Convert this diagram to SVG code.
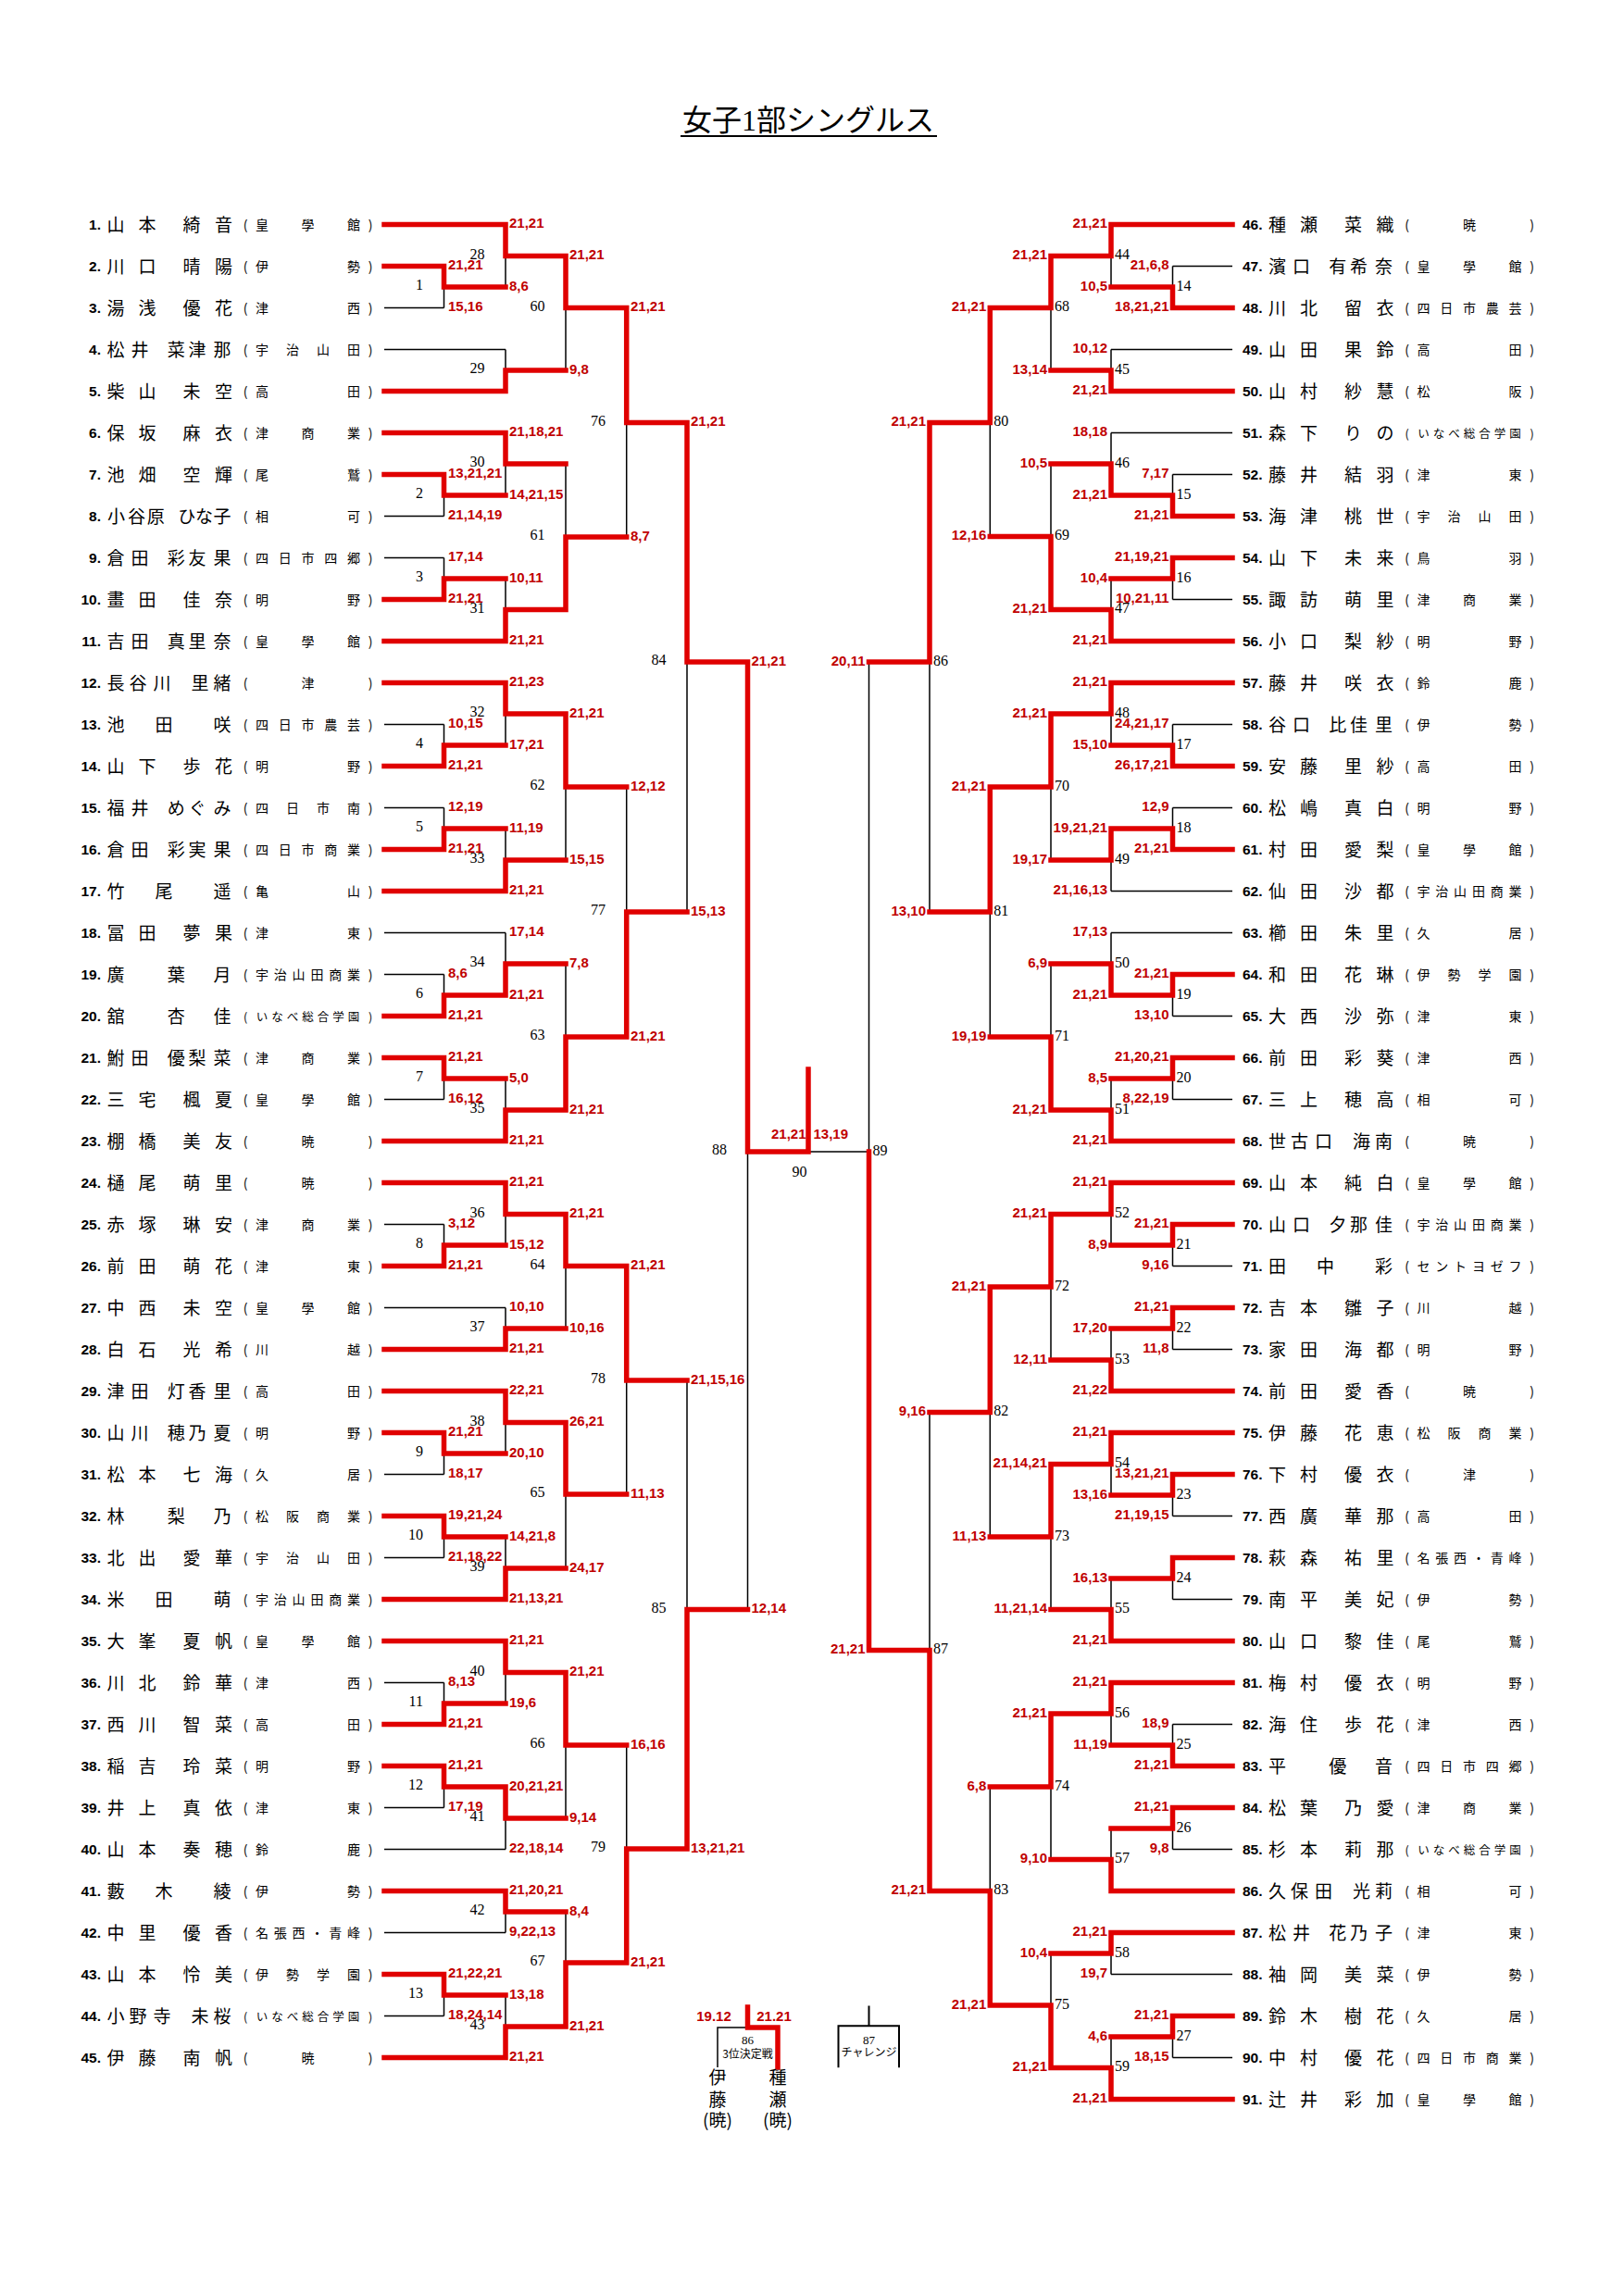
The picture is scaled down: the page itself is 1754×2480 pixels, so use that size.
<svg xmlns="http://www.w3.org/2000/svg" width="1754" height="2480" viewBox="0 0 1754 2480">
<style>
.r{stroke:#e00000;stroke-width:5.5;fill:none;stroke-linecap:square;stroke-linejoin:miter}
.k{stroke:#000;stroke-width:1.5;fill:none}
.kb{stroke:#000;stroke-width:2;fill:none}
.s{font-family:"Liberation Sans",Arial,sans-serif;font-weight:bold;font-size:15px;fill:#c00000}
.se{text-anchor:end}
.m{font-family:"Liberation Serif","Times New Roman",serif;font-size:16px;fill:#000}
.n{font-family:"Liberation Sans",Arial,sans-serif;font-weight:bold;font-size:15.5px;text-anchor:end;fill:#000}
.nm{font-family:"Noto Sans CJK JP",sans-serif;font-size:19px;text-anchor:middle;fill:#000}
.sc{font-family:"Noto Sans CJK JP",sans-serif;font-size:14px;text-anchor:middle;fill:#000}
.sc7{font-size:12.5px}
.t{font-family:"Liberation Serif","Noto Sans CJK JP",serif;font-size:32px;text-anchor:middle}
.sm{font-family:"Liberation Serif","Noto Sans CJK JP",serif;font-size:13px;text-anchor:middle}
.lg{font-family:"Noto Sans CJK JP",sans-serif;font-size:12px;text-anchor:middle}
.vn{font-family:"Noto Sans CJK JP",sans-serif;font-size:19px;text-anchor:middle}
</style>
<rect width="1754" height="2480" fill="#fff"/>
<g id="title">
<text class="t" x="873" y="141">女子1部シングルス</text>
<line x1="735" y1="147" x2="1012" y2="147" stroke="#000" stroke-width="2"/>
</g>

<g id="connectors">
<path class="k" d="M415 332.5H479.5M415 377.5H546M415 557.5H479.5M415 602.5H479.5M415 782.5H479.5M415 872.5H479.5M415 1007.5H546M415 1052.5H479.5M415 1187.5H479.5M415 1322.5H479.5M415 1412.5H546M415 1592.5H479.5M415 1682.5H479.5M415 1817.5H479.5M415 1952.5H479.5M415 1997.5H546M415 2087.5H546M415 2177.5H479.5
M479.5 310V332.5M479.5 535V557.5M479.5 602.5V625M479.5 782.5V805M479.5 872.5V895M479.5 1052.5V1075M479.5 1165V1187.5M479.5 1322.5V1345M479.5 1570V1592.5M479.5 1660V1682.5M479.5 1817.5V1840M479.5 1930V1952.5M479.5 2155V2177.5
M546 276.5V310M546 377.5V400M546 501V535M546 625V658.5M546 771V805M546 895V929M546 1007.5V1041M546 1165V1199M546 1311.5V1345M546 1412.5V1435M546 1536.5V1570M546 1660V1694M546 1806.5V1840M546 1964V1997.5M546 2065V2087.5M546 2155V2189
M611 332.5V400M611 501V580M611 850V929M611 1041V1120M611 1367.5V1435M611 1614V1694M611 1885V1964M611 2065V2120
M676.7 456.5V580M676.7 850V985M676.7 1491V1614M676.7 1885V1997
M742 715V985M742 1491V1738.5
M807.5 1244V1738.5
M873 1244H938.5"/>
<path class="k" d="M1331 287.5H1266.5M1331 377.5H1200M1331 467.5H1200M1331 512.5H1266.5M1331 647.5H1266.5M1331 782.5H1266.5M1331 872.5H1266.5M1331 962.5H1200M1331 1007.5H1200M1331 1097.5H1266.5M1331 1187.5H1266.5M1331 1367.5H1266.5M1331 1457.5H1266.5M1331 1637.5H1266.5M1331 1727.5H1266.5M1331 1862.5H1266.5M1331 1997.5H1266.5M1331 2132.5H1200M1331 2222.5H1266.5
M1266.5 287.5V310M1266.5 512.5V535M1266.5 625V647.5M1266.5 782.5V805M1266.5 872.5V895M1266.5 1075V1097.5M1266.5 1165V1187.5M1266.5 1345V1367.5M1266.5 1435V1457.5M1266.5 1615V1637.5M1266.5 1705V1727.5M1266.5 1862.5V1885M1266.5 1975V1997.5M1266.5 2200V2222.5
M1200 276.5V310M1200 377.5V400M1200 467.5V501M1200 625V658.5M1200 771V805M1200 929V962.5M1200 1007.5V1041M1200 1165V1199M1200 1311.5V1345M1200 1435V1469M1200 1581.5V1615M1200 1705V1738.5M1200 1851V1885M1200 1975V2008.5M1200 2110V2132.5M1200 2200V2233.5
M1135 332.5V400M1135 501V579.5M1135 850V929M1135 1041V1120M1135 1390V1469M1135 1660V1738.5M1135 1930V2008.5M1135 2110V2166
M1069.3 456.5V579.5M1069.3 985V1120M1069.3 1525.5V1660M1069.3 1930V2042.5
M1004 715V985M1004 1525.5V1782.5
M938.5 715V1244"/>
<path class="r" d="M415 242.5H546M415 287.5H479.5M415 422.5H546M415 467.5H546M415 512.5H479.5M415 647.5H479.5M415 692.5H546M415 737.5H546M415 827.5H479.5M415 917.5H479.5M415 962.5H546M415 1097.5H479.5M415 1142.5H479.5M415 1232.5H546M415 1277.5H546M415 1367.5H479.5M415 1457.5H546M415 1502.5H546M415 1547.5H479.5M415 1637.5H479.5M415 1727.5H546M415 1772.5H546M415 1862.5H479.5M415 1907.5H479.5M415 2042.5H546M415 2132.5H479.5M415 2222.5H546
M479.5 287.5V310H546M479.5 512.5V535H546M479.5 647.5V625H546M479.5 827.5V805H546M479.5 917.5V895H546M479.5 1097.5V1075H546M479.5 1142.5V1165H546M479.5 1367.5V1345H546M479.5 1547.5V1570H546M479.5 1637.5V1660H546M479.5 1862.5V1840H546M479.5 1907.5V1930H546M479.5 2132.5V2155H546
M546 242.5V276.5H611M546 422.5V400H611M546 467.5V501H611M546 692.5V658.5H611M546 737.5V771H611M546 962.5V929H611M546 1075V1041H611M546 1232.5V1199H611M546 1277.5V1311.5H611M546 1457.5V1435H611M546 1502.5V1536.5H611M546 1727.5V1694H611M546 1772.5V1806.5H611M546 1930V1964H611M546 2042.5V2065H611M546 2222.5V2189H611
M611 276.5V332.5H676.7M611 658.5V580H676.7M611 771V850H676.7M611 1199V1120H676.7M611 1311.5V1367.5H676.7M611 1536.5V1614H676.7M611 1806.5V1885H676.7M611 2189V2120H676.7
M676.7 332.5V456.5H742M676.7 1120V985H742M676.7 1367.5V1491H742M676.7 2120V1997H742
M742 456.5V715H807.5M742 1997V1738.5H807.5
M807.5 715V1244H873V1155"/>
<path class="r" d="M1331 242.5H1200M1331 332.5H1266.5M1331 422.5H1200M1331 557.5H1266.5M1331 602.5H1266.5M1331 692.5H1200M1331 737.5H1200M1331 827.5H1266.5M1331 917.5H1266.5M1331 1052.5H1266.5M1331 1142.5H1266.5M1331 1232.5H1200M1331 1277.5H1200M1331 1322.5H1266.5M1331 1412.5H1266.5M1331 1502.5H1200M1331 1547.5H1200M1331 1592.5H1266.5M1331 1682.5H1266.5M1331 1772.5H1200M1331 1817.5H1200M1331 1907.5H1266.5M1331 1952.5H1266.5M1331 2042.5H1200M1331 2087.5H1200M1331 2177.5H1266.5M1331 2267.5H1200
M1266.5 332.5V310H1200M1266.5 557.5V535H1200M1266.5 602.5V625H1200M1266.5 827.5V805H1200M1266.5 917.5V895H1200M1266.5 1052.5V1075H1200M1266.5 1142.5V1165H1200M1266.5 1322.5V1345H1200M1266.5 1412.5V1435H1200M1266.5 1592.5V1615H1200M1266.5 1682.5V1705H1200M1266.5 1907.5V1885H1200M1266.5 1952.5V1975H1200M1266.5 2177.5V2200H1200
M1200 242.5V276.5H1135M1200 422.5V400H1135M1200 535V501H1135M1200 692.5V658.5H1135M1200 737.5V771H1135M1200 895V929H1135M1200 1075V1041H1135M1200 1232.5V1199H1135M1200 1277.5V1311.5H1135M1200 1502.5V1469H1135M1200 1547.5V1581.5H1135M1200 1772.5V1738.5H1135M1200 1817.5V1851H1135M1200 2042.5V2008.5H1135M1200 2087.5V2110H1135M1200 2267.5V2233.5H1135
M1135 276.5V332.5H1069.3M1135 658.5V579.5H1069.3M1135 771V850H1069.3M1135 1199V1120H1069.3M1135 1311.5V1390H1069.3M1135 1581.5V1660H1069.3M1135 1851V1930H1069.3M1135 2233.5V2166H1069.3
M1069.3 332.5V456.5H1004M1069.3 850V985H1004M1069.3 1390V1525.5H1004M1069.3 2166V2042.5H1004
M1004 456.5V715H938.5M1004 2042.5V1782.5H938.5
M938.5 1782.5V1244"/>
</g>

<g id="scores-left" class="s">
<text x="484" y="291">21,21</text><text x="484" y="336">15,16</text><text x="484" y="516">13,21,21</text><text x="484" y="561">21,14,19</text><text x="484" y="606">17,14</text><text x="484" y="651">21,21</text><text x="484" y="786">10,15</text><text x="484" y="831">21,21</text><text x="484" y="876">12,19</text><text x="484" y="921">21,21</text><text x="484" y="1056">8,6</text><text x="484" y="1101">21,21</text><text x="484" y="1146">21,21</text><text x="484" y="1191">16,12</text><text x="484" y="1326">3,12</text><text x="484" y="1371">21,21</text><text x="484" y="1551">21,21</text><text x="484" y="1596">18,17</text><text x="484" y="1641">19,21,24</text><text x="484" y="1686">21,18,22</text><text x="484" y="1821">8,13</text><text x="484" y="1866">21,21</text><text x="484" y="1911">21,21</text><text x="484" y="1956">17,19</text><text x="484" y="2136">21,22,21</text><text x="484" y="2181">18,24,14</text>
<text x="550" y="246">21,21</text><text x="550" y="313.5">8,6</text><text x="550" y="471">21,18,21</text><text x="550" y="538.5">14,21,15</text><text x="550" y="628.5">10,11</text><text x="550" y="696">21,21</text><text x="550" y="741">21,23</text><text x="550" y="808.5">17,21</text><text x="550" y="898.5">11,19</text><text x="550" y="966">21,21</text><text x="550" y="1011">17,14</text><text x="550" y="1078.5">21,21</text><text x="550" y="1168.5">5,0</text><text x="550" y="1236">21,21</text><text x="550" y="1281">21,21</text><text x="550" y="1348.5">15,12</text><text x="550" y="1416">10,10</text><text x="550" y="1461">21,21</text><text x="550" y="1506">22,21</text><text x="550" y="1573.5">20,10</text><text x="550" y="1663.5">14,21,8</text><text x="550" y="1731">21,13,21</text><text x="550" y="1776">21,21</text><text x="550" y="1843.5">19,6</text><text x="550" y="1933.5">20,21,21</text><text x="550" y="2001">22,18,14</text><text x="550" y="2046">21,20,21</text><text x="550" y="2091">9,22,13</text><text x="550" y="2158.5">13,18</text><text x="550" y="2226">21,21</text>
<text x="615" y="280">21,21</text><text x="615" y="403.5">9,8</text><text x="615" y="774.5">21,21</text><text x="615" y="932.5">15,15</text><text x="615" y="1044.5">7,8</text><text x="615" y="1202.5">21,21</text><text x="615" y="1315">21,21</text><text x="615" y="1438.5">10,16</text><text x="615" y="1540">26,21</text><text x="615" y="1697.5">24,17</text><text x="615" y="1810">21,21</text><text x="615" y="1967.5">9,14</text><text x="615" y="2068.5">8,4</text><text x="615" y="2192.5">21,21</text>
<text x="681" y="336">21,21</text><text x="681" y="583.5">8,7</text><text x="681" y="853.5">12,12</text><text x="681" y="1123.5">21,21</text><text x="681" y="1371">21,21</text><text x="681" y="1617.5">11,13</text><text x="681" y="1888.5">16,16</text><text x="681" y="2123.5">21,21</text>
<text x="746" y="460">21,21</text><text x="746" y="988.5">15,13</text><text x="746" y="1494.5">21,15,16</text><text x="746" y="2000.5">13,21,21</text>
<text x="811.5" y="718.5">21,21</text><text x="811.5" y="1742">12,14</text>
<text x="870.5" y="1230" class="se">21,21</text><text x="878.5" y="1230">13,19</text>
</g>

<g id="scores-right" class="s se">
<text x="1262.5" y="291">21,6,8</text><text x="1262.5" y="336">18,21,21</text><text x="1262.5" y="516">7,17</text><text x="1262.5" y="561">21,21</text><text x="1262.5" y="606">21,19,21</text><text x="1262.5" y="651">10,21,11</text><text x="1262.5" y="786">24,21,17</text><text x="1262.5" y="831">26,17,21</text><text x="1262.5" y="876">12,9</text><text x="1262.5" y="921">21,21</text><text x="1262.5" y="1056">21,21</text><text x="1262.5" y="1101">13,10</text><text x="1262.5" y="1146">21,20,21</text><text x="1262.5" y="1191">8,22,19</text><text x="1262.5" y="1326">21,21</text><text x="1262.5" y="1371">9,16</text><text x="1262.5" y="1416">21,21</text><text x="1262.5" y="1461">11,8</text><text x="1262.5" y="1596">13,21,21</text><text x="1262.5" y="1641">21,19,15</text><text x="1262.5" y="1866">18,9</text><text x="1262.5" y="1911">21,21</text><text x="1262.5" y="1956">21,21</text><text x="1262.5" y="2001">9,8</text><text x="1262.5" y="2181">21,21</text><text x="1262.5" y="2226">18,15</text>
<text x="1196" y="246">21,21</text><text x="1196" y="313.5">10,5</text><text x="1196" y="381">10,12</text><text x="1196" y="426">21,21</text><text x="1196" y="471">18,18</text><text x="1196" y="538.5">21,21</text><text x="1196" y="628.5">10,4</text><text x="1196" y="696">21,21</text><text x="1196" y="741">21,21</text><text x="1196" y="808.5">15,10</text><text x="1196" y="898.5">19,21,21</text><text x="1196" y="966">21,16,13</text><text x="1196" y="1011">17,13</text><text x="1196" y="1078.5">21,21</text><text x="1196" y="1168.5">8,5</text><text x="1196" y="1236">21,21</text><text x="1196" y="1281">21,21</text><text x="1196" y="1348.5">8,9</text><text x="1196" y="1438.5">17,20</text><text x="1196" y="1506">21,22</text><text x="1196" y="1551">21,21</text><text x="1196" y="1618.5">13,16</text><text x="1196" y="1708.5">16,13</text><text x="1196" y="1776">21,21</text><text x="1196" y="1821">21,21</text><text x="1196" y="1888.5">11,19</text><text x="1196" y="2091">21,21</text><text x="1196" y="2136">19,7</text><text x="1196" y="2203.5">4,6</text><text x="1196" y="2271">21,21</text>
<text x="1131" y="280">21,21</text><text x="1131" y="403.5">13,14</text><text x="1131" y="504.5">10,5</text><text x="1131" y="662">21,21</text><text x="1131" y="774.5">21,21</text><text x="1131" y="932.5">19,17</text><text x="1131" y="1044.5">6,9</text><text x="1131" y="1202.5">21,21</text><text x="1131" y="1315">21,21</text><text x="1131" y="1472.5">12,11</text><text x="1131" y="1585">21,14,21</text><text x="1131" y="1742">11,21,14</text><text x="1131" y="1854.5">21,21</text><text x="1131" y="2012">9,10</text><text x="1131" y="2113.5">10,4</text><text x="1131" y="2237">21,21</text>
<text x="1065.3" y="336">21,21</text><text x="1065.3" y="583">12,16</text><text x="1065.3" y="853.5">21,21</text><text x="1065.3" y="1123.5">19,19</text><text x="1065.3" y="1393.5">21,21</text><text x="1065.3" y="1663.5">11,13</text><text x="1065.3" y="1933.5">6,8</text><text x="1065.3" y="2169.5">21,21</text>
<text x="1000" y="460">21,21</text><text x="1000" y="988.5">13,10</text><text x="1000" y="1529">9,16</text><text x="1000" y="2046">21,21</text>
<text x="934.5" y="718.5">20,11</text><text x="934.5" y="1786">21,21</text>
</g>

<g id="match-numbers-left" class="m" text-anchor="end">
<text x="457" y="313">1</text><text x="457" y="538">2</text><text x="457" y="628">3</text><text x="457" y="808">4</text><text x="457" y="898">5</text><text x="457" y="1078">6</text><text x="457" y="1168">7</text><text x="457" y="1348">8</text><text x="457" y="1573">9</text><text x="457" y="1663">10</text><text x="457" y="1843">11</text><text x="457" y="1933">12</text><text x="457" y="2158">13</text>
<text x="523.5" y="279.5">28</text><text x="523.5" y="403">29</text><text x="523.5" y="504">30</text><text x="523.5" y="661.5">31</text><text x="523.5" y="774">32</text><text x="523.5" y="932">33</text><text x="523.5" y="1044">34</text><text x="523.5" y="1202">35</text><text x="523.5" y="1314.5">36</text><text x="523.5" y="1438">37</text><text x="523.5" y="1539.5">38</text><text x="523.5" y="1697">39</text><text x="523.5" y="1809.5">40</text><text x="523.5" y="1967">41</text><text x="523.5" y="2068">42</text><text x="523.5" y="2192">43</text>
<text x="588.5" y="335.5">60</text><text x="588.5" y="583">61</text><text x="588.5" y="853">62</text><text x="588.5" y="1123">63</text><text x="588.5" y="1370.5">64</text><text x="588.5" y="1617">65</text><text x="588.5" y="1888">66</text><text x="588.5" y="2123">67</text>
<text x="654" y="459.5">76</text><text x="654" y="988">77</text><text x="654" y="1494">78</text><text x="654" y="2000">79</text>
<text x="719.5" y="718">84</text><text x="719.5" y="1741.5">85</text>
<text x="785" y="1247">88</text>
<text x="871.5" y="1271">90</text>
</g>

<g id="match-numbers-right" class="m">
<text x="1270.5" y="313.5">14</text><text x="1270.5" y="538.5">15</text><text x="1270.5" y="628.5">16</text><text x="1270.5" y="808.5">17</text><text x="1270.5" y="898.5">18</text><text x="1270.5" y="1078.5">19</text><text x="1270.5" y="1168.5">20</text><text x="1270.5" y="1348.5">21</text><text x="1270.5" y="1438.5">22</text><text x="1270.5" y="1618.5">23</text><text x="1270.5" y="1708.5">24</text><text x="1270.5" y="1888.5">25</text><text x="1270.5" y="1978.5">26</text><text x="1270.5" y="2203.5">27</text>
<text x="1204" y="280">44</text><text x="1204" y="403.5">45</text><text x="1204" y="504.5">46</text><text x="1204" y="662">47</text><text x="1204" y="774.5">48</text><text x="1204" y="932.5">49</text><text x="1204" y="1044.5">50</text><text x="1204" y="1202.5">51</text><text x="1204" y="1315">52</text><text x="1204" y="1472.5">53</text><text x="1204" y="1585">54</text><text x="1204" y="1742">55</text><text x="1204" y="1854.5">56</text><text x="1204" y="2012">57</text><text x="1204" y="2113.5">58</text><text x="1204" y="2237">59</text>
<text x="1139" y="336">68</text><text x="1139" y="583">69</text><text x="1139" y="853.5">70</text><text x="1139" y="1123.5">71</text><text x="1139" y="1393.5">72</text><text x="1139" y="1663.5">73</text><text x="1139" y="1933.5">74</text><text x="1139" y="2169.5">75</text>
<text x="1073.3" y="460">80</text><text x="1073.3" y="988.5">81</text><text x="1073.3" y="1529">82</text><text x="1073.3" y="2046">83</text>
<text x="1008" y="718.5">86</text><text x="1008" y="1786">87</text>
<text x="942.5" y="1247.5">89</text>
</g>

<g id="players-left">
<g id="p1" transform="translate(0 242.5)"><text class="n" x="109" y="5.5">1.</text><text class="nm" x="125 159 207 241.5" y="7">山本綺音</text><text class="sc" x="265 283 332.5 382 400" y="5">(皇學館)</text></g>
<g id="p2" transform="translate(0 287.5)"><text class="n" x="109" y="5.5">2.</text><text class="nm" x="125 159 207 241.5" y="7">川口晴陽</text><text class="sc" x="265 283 382 400" y="5">(伊勢)</text></g>
<g id="p3" transform="translate(0 332.5)"><text class="n" x="109" y="5.5">3.</text><text class="nm" x="125 159 207 241.5" y="7">湯浅優花</text><text class="sc" x="265 283 382 400" y="5">(津西)</text></g>
<g id="p4" transform="translate(0 377.5)"><text class="n" x="109" y="5.5">4.</text><text class="nm" x="125 151 190.3 213 240" y="7">松井菜津那</text><text class="sc" x="265 283 316 349 382 400" y="5">(宇治山田)</text></g>
<g id="p5" transform="translate(0 422.5)"><text class="n" x="109" y="5.5">5.</text><text class="nm" x="125 159 207 241.5" y="7">柴山未空</text><text class="sc" x="265 283 382 400" y="5">(高田)</text></g>
<g id="p6" transform="translate(0 467.5)"><text class="n" x="109" y="5.5">6.</text><text class="nm" x="125 159 207 241.5" y="7">保坂麻衣</text><text class="sc" x="265 283 332.5 382 400" y="5">(津商業)</text></g>
<g id="p7" transform="translate(0 512.5)"><text class="n" x="109" y="5.5">7.</text><text class="nm" x="125 159 207 241.5" y="7">池畑空輝</text><text class="sc" x="265 283 382 400" y="5">(尾鷲)</text></g>
<g id="p8" transform="translate(0 557.5)"><text class="n" x="109" y="5.5">8.</text><text class="nm" x="125.4 147.4 168.3 201.8 220.6 240" y="7">小谷原ひな子</text><text class="sc" x="265 283 382 400" y="5">(相可)</text></g>
<g id="p9" transform="translate(0 602.5)"><text class="n" x="109" y="5.5">9.</text><text class="nm" x="125 151 190.3 213 240" y="7">倉田彩友果</text><text class="sc" x="265 283 307.75 332.5 357.25 382 400" y="5">(四日市四郷)</text></g>
<g id="p10" transform="translate(0 647.5)"><text class="n" x="109" y="5.5">10.</text><text class="nm" x="125 159 207 241.5" y="7">畫田佳奈</text><text class="sc" x="265 283 382 400" y="5">(明野)</text></g>
<g id="p11" transform="translate(0 692.5)"><text class="n" x="109" y="5.5">11.</text><text class="nm" x="125 151 190.3 213 240" y="7">吉田真里奈</text><text class="sc" x="265 283 332.5 382 400" y="5">(皇學館)</text></g>
<g id="p12" transform="translate(0 737.5)"><text class="n" x="109" y="5.5">12.</text><text class="nm" x="125 149 175 216 240" y="7">長谷川里緒</text><text class="sc" x="265 332.5 400" y="5">(津)</text></g>
<g id="p13" transform="translate(0 782.5)"><text class="n" x="109" y="5.5">13.</text><text class="nm" x="125 177 240" y="7">池田咲</text><text class="sc" x="265 283 307.75 332.5 357.25 382 400" y="5">(四日市農芸)</text></g>
<g id="p14" transform="translate(0 827.5)"><text class="n" x="109" y="5.5">14.</text><text class="nm" x="125 159 207 241.5" y="7">山下歩花</text><text class="sc" x="265 283 382 400" y="5">(明野)</text></g>
<g id="p15" transform="translate(0 872.5)"><text class="n" x="109" y="5.5">15.</text><text class="nm" x="125 151 190.3 213 240" y="7">福井めぐみ</text><text class="sc" x="265 283 316 349 382 400" y="5">(四日市南)</text></g>
<g id="p16" transform="translate(0 917.5)"><text class="n" x="109" y="5.5">16.</text><text class="nm" x="125 151 190.3 213 240" y="7">倉田彩実果</text><text class="sc" x="265 283 307.75 332.5 357.25 382 400" y="5">(四日市商業)</text></g>
<g id="p17" transform="translate(0 962.5)"><text class="n" x="109" y="5.5">17.</text><text class="nm" x="125 177 240" y="7">竹尾遥</text><text class="sc" x="265 283 382 400" y="5">(亀山)</text></g>
<g id="p18" transform="translate(0 1007.5)"><text class="n" x="109" y="5.5">18.</text><text class="nm" x="125 159 207 241.5" y="7">冨田夢果</text><text class="sc" x="265 283 382 400" y="5">(津東)</text></g>
<g id="p19" transform="translate(0 1052.5)"><text class="n" x="109" y="5.5">19.</text><text class="nm" x="125 190.3 240" y="7">廣葉月</text><text class="sc" x="265 283 302.8 322.6 342.4 362.2 382 400" y="5">(宇治山田商業)</text></g>
<g id="p20" transform="translate(0 1097.5)"><text class="n" x="109" y="5.5">20.</text><text class="nm" x="125 190.3 240" y="7">舘杏佳</text><text class="sc sc7" x="265 283 299.5 316 332.5 349 365.5 382 400" y="5">(いなべ総合学園)</text></g>
<g id="p21" transform="translate(0 1142.5)"><text class="n" x="109" y="5.5">21.</text><text class="nm" x="125 151 190.3 213 240" y="7">鮒田優梨菜</text><text class="sc" x="265 283 332.5 382 400" y="5">(津商業)</text></g>
<g id="p22" transform="translate(0 1187.5)"><text class="n" x="109" y="5.5">22.</text><text class="nm" x="125 159 207 241.5" y="7">三宅楓夏</text><text class="sc" x="265 283 332.5 382 400" y="5">(皇學館)</text></g>
<g id="p23" transform="translate(0 1232.5)"><text class="n" x="109" y="5.5">23.</text><text class="nm" x="125 159 207 241.5" y="7">棚橋美友</text><text class="sc" x="265 332.5 400" y="5">(暁)</text></g>
<g id="p24" transform="translate(0 1277.5)"><text class="n" x="109" y="5.5">24.</text><text class="nm" x="125 159 207 241.5" y="7">樋尾萌里</text><text class="sc" x="265 332.5 400" y="5">(暁)</text></g>
<g id="p25" transform="translate(0 1322.5)"><text class="n" x="109" y="5.5">25.</text><text class="nm" x="125 159 207 241.5" y="7">赤塚琳安</text><text class="sc" x="265 283 332.5 382 400" y="5">(津商業)</text></g>
<g id="p26" transform="translate(0 1367.5)"><text class="n" x="109" y="5.5">26.</text><text class="nm" x="125 159 207 241.5" y="7">前田萌花</text><text class="sc" x="265 283 382 400" y="5">(津東)</text></g>
<g id="p27" transform="translate(0 1412.5)"><text class="n" x="109" y="5.5">27.</text><text class="nm" x="125 159 207 241.5" y="7">中西未空</text><text class="sc" x="265 283 332.5 382 400" y="5">(皇學館)</text></g>
<g id="p28" transform="translate(0 1457.5)"><text class="n" x="109" y="5.5">28.</text><text class="nm" x="125 159 207 241.5" y="7">白石光希</text><text class="sc" x="265 283 382 400" y="5">(川越)</text></g>
<g id="p29" transform="translate(0 1502.5)"><text class="n" x="109" y="5.5">29.</text><text class="nm" x="125 151 190.3 213 240" y="7">津田灯香里</text><text class="sc" x="265 283 382 400" y="5">(高田)</text></g>
<g id="p30" transform="translate(0 1547.5)"><text class="n" x="109" y="5.5">30.</text><text class="nm" x="125 151 190.3 213 240" y="7">山川穂乃夏</text><text class="sc" x="265 283 382 400" y="5">(明野)</text></g>
<g id="p31" transform="translate(0 1592.5)"><text class="n" x="109" y="5.5">31.</text><text class="nm" x="125 159 207 241.5" y="7">松本七海</text><text class="sc" x="265 283 382 400" y="5">(久居)</text></g>
<g id="p32" transform="translate(0 1637.5)"><text class="n" x="109" y="5.5">32.</text><text class="nm" x="125 190.3 240" y="7">林梨乃</text><text class="sc" x="265 283 316 349 382 400" y="5">(松阪商業)</text></g>
<g id="p33" transform="translate(0 1682.5)"><text class="n" x="109" y="5.5">33.</text><text class="nm" x="125 159 207 241.5" y="7">北出愛華</text><text class="sc" x="265 283 316 349 382 400" y="5">(宇治山田)</text></g>
<g id="p34" transform="translate(0 1727.5)"><text class="n" x="109" y="5.5">34.</text><text class="nm" x="125 177 240" y="7">米田萌</text><text class="sc" x="265 283 302.8 322.6 342.4 362.2 382 400" y="5">(宇治山田商業)</text></g>
<g id="p35" transform="translate(0 1772.5)"><text class="n" x="109" y="5.5">35.</text><text class="nm" x="125 159 207 241.5" y="7">大峯夏帆</text><text class="sc" x="265 283 332.5 382 400" y="5">(皇學館)</text></g>
<g id="p36" transform="translate(0 1817.5)"><text class="n" x="109" y="5.5">36.</text><text class="nm" x="125 159 207 241.5" y="7">川北鈴華</text><text class="sc" x="265 283 382 400" y="5">(津西)</text></g>
<g id="p37" transform="translate(0 1862.5)"><text class="n" x="109" y="5.5">37.</text><text class="nm" x="125 159 207 241.5" y="7">西川智菜</text><text class="sc" x="265 283 382 400" y="5">(高田)</text></g>
<g id="p38" transform="translate(0 1907.5)"><text class="n" x="109" y="5.5">38.</text><text class="nm" x="125 159 207 241.5" y="7">稲吉玲菜</text><text class="sc" x="265 283 382 400" y="5">(明野)</text></g>
<g id="p39" transform="translate(0 1952.5)"><text class="n" x="109" y="5.5">39.</text><text class="nm" x="125 159 207 241.5" y="7">井上真依</text><text class="sc" x="265 283 382 400" y="5">(津東)</text></g>
<g id="p40" transform="translate(0 1997.5)"><text class="n" x="109" y="5.5">40.</text><text class="nm" x="125 159 207 241.5" y="7">山本奏穂</text><text class="sc" x="265 283 382 400" y="5">(鈴鹿)</text></g>
<g id="p41" transform="translate(0 2042.5)"><text class="n" x="109" y="5.5">41.</text><text class="nm" x="125 177 240" y="7">藪木綾</text><text class="sc" x="265 283 382 400" y="5">(伊勢)</text></g>
<g id="p42" transform="translate(0 2087.5)"><text class="n" x="109" y="5.5">42.</text><text class="nm" x="125 159 207 241.5" y="7">中里優香</text><text class="sc" x="265 283 302.8 322.6 342.4 362.2 382 400" y="5">(名張西・青峰)</text></g>
<g id="p43" transform="translate(0 2132.5)"><text class="n" x="109" y="5.5">43.</text><text class="nm" x="125 159 207 241.5" y="7">山本怜美</text><text class="sc" x="265 283 316 349 382 400" y="5">(伊勢学園)</text></g>
<g id="p44" transform="translate(0 2177.5)"><text class="n" x="109" y="5.5">44.</text><text class="nm" x="125 149 175 216 240" y="7">小野寺未桜</text><text class="sc sc7" x="265 283 299.5 316 332.5 349 365.5 382 400" y="5">(いなべ総合学園)</text></g>
<g id="p45" transform="translate(0 2222.5)"><text class="n" x="109" y="5.5">45.</text><text class="nm" x="125 159 207 241.5" y="7">伊藤南帆</text><text class="sc" x="265 332.5 400" y="5">(暁)</text></g>
</g>

<g id="players-right">
<g id="p46" transform="translate(0 242.5)"><text class="n" x="1363.5" y="5.5">46.</text><text class="nm" x="1379.5 1413.5 1461.5 1496" y="7">種瀬菜織</text><text class="sc" x="1519.5 1587 1654.5" y="5">(暁)</text></g>
<g id="p47" transform="translate(0 287.5)"><text class="n" x="1363.5" y="5.5">47.</text><text class="nm" x="1379.5 1405.5 1444.8 1467.5 1494.5" y="7">濱口有希奈</text><text class="sc" x="1519.5 1537.5 1587 1636.5 1654.5" y="5">(皇學館)</text></g>
<g id="p48" transform="translate(0 332.5)"><text class="n" x="1363.5" y="5.5">48.</text><text class="nm" x="1379.5 1413.5 1461.5 1496" y="7">川北留衣</text><text class="sc" x="1519.5 1537.5 1562.25 1587 1611.75 1636.5 1654.5" y="5">(四日市農芸)</text></g>
<g id="p49" transform="translate(0 377.5)"><text class="n" x="1363.5" y="5.5">49.</text><text class="nm" x="1379.5 1413.5 1461.5 1496" y="7">山田果鈴</text><text class="sc" x="1519.5 1537.5 1636.5 1654.5" y="5">(高田)</text></g>
<g id="p50" transform="translate(0 422.5)"><text class="n" x="1363.5" y="5.5">50.</text><text class="nm" x="1379.5 1413.5 1461.5 1496" y="7">山村紗慧</text><text class="sc" x="1519.5 1537.5 1636.5 1654.5" y="5">(松阪)</text></g>
<g id="p51" transform="translate(0 467.5)"><text class="n" x="1363.5" y="5.5">51.</text><text class="nm" x="1379.5 1413.5 1461.5 1496" y="7">森下りの</text><text class="sc sc7" x="1519.5 1537.5 1554 1570.5 1587 1603.5 1620 1636.5 1654.5" y="5">(いなべ総合学園)</text></g>
<g id="p52" transform="translate(0 512.5)"><text class="n" x="1363.5" y="5.5">52.</text><text class="nm" x="1379.5 1413.5 1461.5 1496" y="7">藤井結羽</text><text class="sc" x="1519.5 1537.5 1636.5 1654.5" y="5">(津東)</text></g>
<g id="p53" transform="translate(0 557.5)"><text class="n" x="1363.5" y="5.5">53.</text><text class="nm" x="1379.5 1413.5 1461.5 1496" y="7">海津桃世</text><text class="sc" x="1519.5 1537.5 1570.5 1603.5 1636.5 1654.5" y="5">(宇治山田)</text></g>
<g id="p54" transform="translate(0 602.5)"><text class="n" x="1363.5" y="5.5">54.</text><text class="nm" x="1379.5 1413.5 1461.5 1496" y="7">山下未来</text><text class="sc" x="1519.5 1537.5 1636.5 1654.5" y="5">(鳥羽)</text></g>
<g id="p55" transform="translate(0 647.5)"><text class="n" x="1363.5" y="5.5">55.</text><text class="nm" x="1379.5 1413.5 1461.5 1496" y="7">諏訪萌里</text><text class="sc" x="1519.5 1537.5 1587 1636.5 1654.5" y="5">(津商業)</text></g>
<g id="p56" transform="translate(0 692.5)"><text class="n" x="1363.5" y="5.5">56.</text><text class="nm" x="1379.5 1413.5 1461.5 1496" y="7">小口梨紗</text><text class="sc" x="1519.5 1537.5 1636.5 1654.5" y="5">(明野)</text></g>
<g id="p57" transform="translate(0 737.5)"><text class="n" x="1363.5" y="5.5">57.</text><text class="nm" x="1379.5 1413.5 1461.5 1496" y="7">藤井咲衣</text><text class="sc" x="1519.5 1537.5 1636.5 1654.5" y="5">(鈴鹿)</text></g>
<g id="p58" transform="translate(0 782.5)"><text class="n" x="1363.5" y="5.5">58.</text><text class="nm" x="1379.5 1405.5 1444.8 1467.5 1494.5" y="7">谷口比佳里</text><text class="sc" x="1519.5 1537.5 1636.5 1654.5" y="5">(伊勢)</text></g>
<g id="p59" transform="translate(0 827.5)"><text class="n" x="1363.5" y="5.5">59.</text><text class="nm" x="1379.5 1413.5 1461.5 1496" y="7">安藤里紗</text><text class="sc" x="1519.5 1537.5 1636.5 1654.5" y="5">(高田)</text></g>
<g id="p60" transform="translate(0 872.5)"><text class="n" x="1363.5" y="5.5">60.</text><text class="nm" x="1379.5 1413.5 1461.5 1496" y="7">松嶋真白</text><text class="sc" x="1519.5 1537.5 1636.5 1654.5" y="5">(明野)</text></g>
<g id="p61" transform="translate(0 917.5)"><text class="n" x="1363.5" y="5.5">61.</text><text class="nm" x="1379.5 1413.5 1461.5 1496" y="7">村田愛梨</text><text class="sc" x="1519.5 1537.5 1587 1636.5 1654.5" y="5">(皇學館)</text></g>
<g id="p62" transform="translate(0 962.5)"><text class="n" x="1363.5" y="5.5">62.</text><text class="nm" x="1379.5 1413.5 1461.5 1496" y="7">仙田沙都</text><text class="sc" x="1519.5 1537.5 1557.3 1577.1 1596.9 1616.7 1636.5 1654.5" y="5">(宇治山田商業)</text></g>
<g id="p63" transform="translate(0 1007.5)"><text class="n" x="1363.5" y="5.5">63.</text><text class="nm" x="1379.5 1413.5 1461.5 1496" y="7">櫛田朱里</text><text class="sc" x="1519.5 1537.5 1636.5 1654.5" y="5">(久居)</text></g>
<g id="p64" transform="translate(0 1052.5)"><text class="n" x="1363.5" y="5.5">64.</text><text class="nm" x="1379.5 1413.5 1461.5 1496" y="7">和田花琳</text><text class="sc" x="1519.5 1537.5 1570.5 1603.5 1636.5 1654.5" y="5">(伊勢学園)</text></g>
<g id="p65" transform="translate(0 1097.5)"><text class="n" x="1363.5" y="5.5">65.</text><text class="nm" x="1379.5 1413.5 1461.5 1496" y="7">大西沙弥</text><text class="sc" x="1519.5 1537.5 1636.5 1654.5" y="5">(津東)</text></g>
<g id="p66" transform="translate(0 1142.5)"><text class="n" x="1363.5" y="5.5">66.</text><text class="nm" x="1379.5 1413.5 1461.5 1496" y="7">前田彩葵</text><text class="sc" x="1519.5 1537.5 1636.5 1654.5" y="5">(津西)</text></g>
<g id="p67" transform="translate(0 1187.5)"><text class="n" x="1363.5" y="5.5">67.</text><text class="nm" x="1379.5 1413.5 1461.5 1496" y="7">三上穂高</text><text class="sc" x="1519.5 1537.5 1636.5 1654.5" y="5">(相可)</text></g>
<g id="p68" transform="translate(0 1232.5)"><text class="n" x="1363.5" y="5.5">68.</text><text class="nm" x="1379.5 1403.5 1429.5 1470.5 1494.5" y="7">世古口海南</text><text class="sc" x="1519.5 1587 1654.5" y="5">(暁)</text></g>
<g id="p69" transform="translate(0 1277.5)"><text class="n" x="1363.5" y="5.5">69.</text><text class="nm" x="1379.5 1413.5 1461.5 1496" y="7">山本純白</text><text class="sc" x="1519.5 1537.5 1587 1636.5 1654.5" y="5">(皇學館)</text></g>
<g id="p70" transform="translate(0 1322.5)"><text class="n" x="1363.5" y="5.5">70.</text><text class="nm" x="1379.5 1405.5 1444.8 1467.5 1494.5" y="7">山口夕那佳</text><text class="sc" x="1519.5 1537.5 1557.3 1577.1 1596.9 1616.7 1636.5 1654.5" y="5">(宇治山田商業)</text></g>
<g id="p71" transform="translate(0 1367.5)"><text class="n" x="1363.5" y="5.5">71.</text><text class="nm" x="1379.5 1431.5 1494.5" y="7">田中彩</text><text class="sc" x="1519.5 1537.5 1557.3 1577.1 1596.9 1616.7 1636.5 1654.5" y="5">(セントヨゼフ)</text></g>
<g id="p72" transform="translate(0 1412.5)"><text class="n" x="1363.5" y="5.5">72.</text><text class="nm" x="1379.5 1413.5 1461.5 1496" y="7">吉本雛子</text><text class="sc" x="1519.5 1537.5 1636.5 1654.5" y="5">(川越)</text></g>
<g id="p73" transform="translate(0 1457.5)"><text class="n" x="1363.5" y="5.5">73.</text><text class="nm" x="1379.5 1413.5 1461.5 1496" y="7">家田海都</text><text class="sc" x="1519.5 1537.5 1636.5 1654.5" y="5">(明野)</text></g>
<g id="p74" transform="translate(0 1502.5)"><text class="n" x="1363.5" y="5.5">74.</text><text class="nm" x="1379.5 1413.5 1461.5 1496" y="7">前田愛香</text><text class="sc" x="1519.5 1587 1654.5" y="5">(暁)</text></g>
<g id="p75" transform="translate(0 1547.5)"><text class="n" x="1363.5" y="5.5">75.</text><text class="nm" x="1379.5 1413.5 1461.5 1496" y="7">伊藤花恵</text><text class="sc" x="1519.5 1537.5 1570.5 1603.5 1636.5 1654.5" y="5">(松阪商業)</text></g>
<g id="p76" transform="translate(0 1592.5)"><text class="n" x="1363.5" y="5.5">76.</text><text class="nm" x="1379.5 1413.5 1461.5 1496" y="7">下村優衣</text><text class="sc" x="1519.5 1587 1654.5" y="5">(津)</text></g>
<g id="p77" transform="translate(0 1637.5)"><text class="n" x="1363.5" y="5.5">77.</text><text class="nm" x="1379.5 1413.5 1461.5 1496" y="7">西廣華那</text><text class="sc" x="1519.5 1537.5 1636.5 1654.5" y="5">(高田)</text></g>
<g id="p78" transform="translate(0 1682.5)"><text class="n" x="1363.5" y="5.5">78.</text><text class="nm" x="1379.5 1413.5 1461.5 1496" y="7">萩森祐里</text><text class="sc" x="1519.5 1537.5 1557.3 1577.1 1596.9 1616.7 1636.5 1654.5" y="5">(名張西・青峰)</text></g>
<g id="p79" transform="translate(0 1727.5)"><text class="n" x="1363.5" y="5.5">79.</text><text class="nm" x="1379.5 1413.5 1461.5 1496" y="7">南平美妃</text><text class="sc" x="1519.5 1537.5 1636.5 1654.5" y="5">(伊勢)</text></g>
<g id="p80" transform="translate(0 1772.5)"><text class="n" x="1363.5" y="5.5">80.</text><text class="nm" x="1379.5 1413.5 1461.5 1496" y="7">山口黎佳</text><text class="sc" x="1519.5 1537.5 1636.5 1654.5" y="5">(尾鷲)</text></g>
<g id="p81" transform="translate(0 1817.5)"><text class="n" x="1363.5" y="5.5">81.</text><text class="nm" x="1379.5 1413.5 1461.5 1496" y="7">梅村優衣</text><text class="sc" x="1519.5 1537.5 1636.5 1654.5" y="5">(明野)</text></g>
<g id="p82" transform="translate(0 1862.5)"><text class="n" x="1363.5" y="5.5">82.</text><text class="nm" x="1379.5 1413.5 1461.5 1496" y="7">海住歩花</text><text class="sc" x="1519.5 1537.5 1636.5 1654.5" y="5">(津西)</text></g>
<g id="p83" transform="translate(0 1907.5)"><text class="n" x="1363.5" y="5.5">83.</text><text class="nm" x="1379.5 1444.8 1494.5" y="7">平優音</text><text class="sc" x="1519.5 1537.5 1562.25 1587 1611.75 1636.5 1654.5" y="5">(四日市四郷)</text></g>
<g id="p84" transform="translate(0 1952.5)"><text class="n" x="1363.5" y="5.5">84.</text><text class="nm" x="1379.5 1413.5 1461.5 1496" y="7">松葉乃愛</text><text class="sc" x="1519.5 1537.5 1587 1636.5 1654.5" y="5">(津商業)</text></g>
<g id="p85" transform="translate(0 1997.5)"><text class="n" x="1363.5" y="5.5">85.</text><text class="nm" x="1379.5 1413.5 1461.5 1496" y="7">杉本莉那</text><text class="sc sc7" x="1519.5 1537.5 1554 1570.5 1587 1603.5 1620 1636.5 1654.5" y="5">(いなべ総合学園)</text></g>
<g id="p86" transform="translate(0 2042.5)"><text class="n" x="1363.5" y="5.5">86.</text><text class="nm" x="1379.5 1403.5 1429.5 1470.5 1494.5" y="7">久保田光莉</text><text class="sc" x="1519.5 1537.5 1636.5 1654.5" y="5">(相可)</text></g>
<g id="p87" transform="translate(0 2087.5)"><text class="n" x="1363.5" y="5.5">87.</text><text class="nm" x="1379.5 1405.5 1444.8 1467.5 1494.5" y="7">松井花乃子</text><text class="sc" x="1519.5 1537.5 1636.5 1654.5" y="5">(津東)</text></g>
<g id="p88" transform="translate(0 2132.5)"><text class="n" x="1363.5" y="5.5">88.</text><text class="nm" x="1379.5 1413.5 1461.5 1496" y="7">袖岡美菜</text><text class="sc" x="1519.5 1537.5 1636.5 1654.5" y="5">(伊勢)</text></g>
<g id="p89" transform="translate(0 2177.5)"><text class="n" x="1363.5" y="5.5">89.</text><text class="nm" x="1379.5 1413.5 1461.5 1496" y="7">鈴木樹花</text><text class="sc" x="1519.5 1537.5 1636.5 1654.5" y="5">(久居)</text></g>
<g id="p90" transform="translate(0 2222.5)"><text class="n" x="1363.5" y="5.5">90.</text><text class="nm" x="1379.5 1413.5 1461.5 1496" y="7">中村優花</text><text class="sc" x="1519.5 1537.5 1562.25 1587 1611.75 1636.5 1654.5" y="5">(四日市商業)</text></g>
<g id="p91" transform="translate(0 2267.5)"><text class="n" x="1363.5" y="5.5">91.</text><text class="nm" x="1379.5 1413.5 1461.5 1496" y="7">辻井彩加</text><text class="sc" x="1519.5 1537.5 1587 1636.5 1654.5" y="5">(皇學館)</text></g>
</g>

<g id="third-place">
<path class="k" d="M807.5 2190H775V2233"/>
<path class="r" d="M807.5 2168V2190H840V2233"/>
<text class="s" x="771" y="2182.5" text-anchor="middle">19.12</text>
<text class="s" x="836" y="2182.5" text-anchor="middle">21.21</text>
<text class="sm" x="807.5" y="2208">86</text>
<text class="lg" x="807.5" y="2223">3位決定戦</text>
<text class="vn" x="775" y="2251">伊</text><text class="vn" x="775" y="2274.5">藤</text><text class="vn" x="775" y="2297">(暁)</text>
<text class="vn" x="840" y="2251">種</text><text class="vn" x="840" y="2274.5">瀬</text><text class="vn" x="840" y="2297">(暁)</text>
</g>

<g id="challenge">
<path class="kb" d="M938.5 2166.5V2188.3M905.5 2233.3V2188.3H971V2233.3"/>
<text class="sm" x="938.5" y="2208">87</text>
<text class="lg" x="938.5" y="2221">チャレンジ</text>
</g>
</svg>
